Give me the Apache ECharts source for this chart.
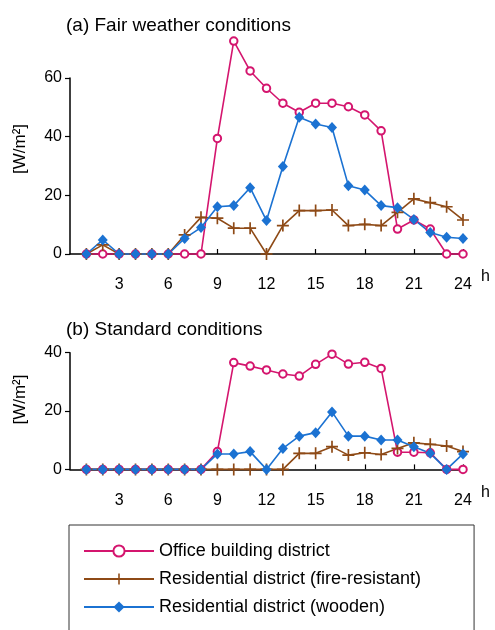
<!DOCTYPE html>
<html>
<head>
<meta charset="utf-8">
<style>
  html, body { margin: 0; padding: 0; background: #fff; }
  #chart { width: 495px; height: 630px; }
</style>
<script src="https://cdn.jsdelivr.net/npm/echarts@6/dist/echarts.min.js"></script>
</head>
<body>
<div id="chart"></div>
<script>
// Hour of day (1..24)
const hours = [1, 2, 3, 4, 5, 6, 7, 8, 9, 10, 11, 12, 13, 14, 15, 16, 17, 18, 19, 20, 21, 22, 23, 24];
const hourTicks = [3, 6, 9, 12, 15, 18, 21, 24];

// (a) Fair weather conditions [W/m2]
const officeFair = [0, 0, 0, 0, 0, 0, 0, 0, 39.4, 72.6, 62.4, 56.5, 51.4, 48.3, 51.4, 51.4, 50.2, 47.4, 42.0, 8.5, 11.6, 8.5, 0, 0];
const fireFair   = [0, 3.1, 0, 0, 0, 0, 6.5, 12.5, 12.2, 8.8, 8.8, 0, 9.7, 14.8, 14.8, 15.0, 9.7, 10.1, 9.7, 14.2, 18.8, 17.5, 16.1, 11.6];
const woodFair   = [0, 4.8, 0, 0, 0, 0, 5.3, 9.0, 16.1, 16.5, 22.6, 11.4, 29.8, 46.6, 44.3, 43.1, 23.3, 21.8, 16.5, 15.8, 11.8, 7.3, 5.7, 5.3];
const fairTicks  = [0, 20, 40, 60];

// (b) Standard conditions [W/m2]
const officeStd = [0, 0, 0, 0, 0, 0, 0, 0, 6.1, 36.6, 35.4, 34.1, 32.7, 32.0, 36.0, 39.5, 36.1, 36.7, 34.6, 5.9, 5.9, 5.7, 0, 0];
const fireStd   = [0, 0, 0, 0, 0, 0, 0, 0, 0, 0, 0, 0, 0, 5.5, 5.5, 7.8, 4.9, 5.7, 5.1, 7.2, 9.1, 8.6, 8.0, 6.1];
const woodStd   = [0, 0, 0, 0, 0, 0, 0, 0, 5.3, 5.3, 6.1, 0, 7.2, 11.4, 12.6, 19.7, 11.4, 11.4, 10.1, 10.1, 7.8, 5.5, 0, 5.3];
const stdTicks  = [0, 20, 40];

const seriesNames = ['Office building district', 'Residential district (fire-resistant)', 'Residential district (wooden)'];

const FONT = '"Liberation Sans", Arial, sans-serif';
const PINK = '#d4156e';
const BROWN = '#8e4a16';
const BLUE = '#1b72d2';
const PLUS = 'path://M4.3,0h1.4v4.3h4.3v1.4h-4.3v4.3h-1.4v-4.3h-4.3v-1.4h4.3z';

const pair = vals => hours.map((h, i) => [h, vals[i]]);

function xAxisFor(gridIndex) {
  return {
    type: 'value', gridIndex, min: 0, max: 24, offset: 9,
    name: 'h', nameLocation: 'end', nameGap: 18,
    nameTextStyle: { fontFamily: FONT, fontSize: 16, color: '#000', verticalAlign: 'top', padding: [15, 0, 0, 0] },
    axisLine: { show: true, lineStyle: { color: '#000', width: 1.5 } },
    axisTick: { show: true, inside: true, length: 5, customValues: hourTicks, lineStyle: { color: '#000', width: 1.2 } },
    axisLabel: { fontFamily: FONT, fontSize: 16, color: '#000', margin: 14, customValues: hourTicks },
    splitLine: { show: false }
  };
}

function yAxisFor(gridIndex, ticks, shift) {
  return {
    type: 'value', gridIndex, min: 0, max: ticks[ticks.length - 1], interval: 20,
    name: '[W/m²]', nameLocation: 'middle', nameGap: 41,
    nameTextStyle: { fontFamily: FONT, fontSize: 17, color: '#000', padding: [0, 0, 0, shift] },
    axisLine: { show: true, lineStyle: { color: '#000', width: 1.5 } },
    axisTick: { show: true, inside: false, length: 5, customValues: ticks, lineStyle: { color: '#000', width: 1.2 } },
    axisLabel: { fontFamily: FONT, fontSize: 16, color: '#000', margin: 8, customValues: ticks },
    splitLine: { show: false }
  };
}

function panelSeries(idx, office, fire, wood) {
  const common = { xAxisIndex: idx, yAxisIndex: idx, clip: false, z: 3 };
  return [
    Object.assign({}, common, {
      name: seriesNames[0], type: 'line', data: pair(office),
      symbol: 'emptyCircle', symbolSize: 7.5, color: PINK,
      lineStyle: { color: PINK, width: 1.6 },
      itemStyle: { color: PINK, borderColor: PINK, borderWidth: 1.5 },
      markLine: {
        silent: true, symbol: 'none', z: 1,
        label: { show: false },
        lineStyle: { color: '#a0a0a0', width: 1, type: 'solid' },
        data: [[{ coord: [0, 0] }, { coord: [24.9, 0] }]]
      }
    }),
    Object.assign({}, common, {
      name: seriesNames[1], type: 'line', data: pair(fire),
      symbol: PLUS, symbolSize: 12, color: BROWN,
      lineStyle: { color: BROWN, width: 1.6 },
      itemStyle: { color: BROWN }
    }),
    Object.assign({}, common, {
      name: seriesNames[2], type: 'line', data: pair(wood),
      symbol: 'diamond', symbolSize: [10, 11], color: BLUE,
      lineStyle: { color: BLUE, width: 1.6 },
      itemStyle: { color: BLUE }
    })
  ];
}

const chart = echarts.init(document.getElementById('chart'), null, { renderer: 'canvas' });
chart.setOption({
  animation: false,
  backgroundColor: '#fff',
  title: [
    { text: '(a) Fair weather conditions', left: 61, top: 11, textStyle: { fontFamily: FONT, fontSize: 19, fontWeight: 'normal', color: '#000' } },
    { text: '(b) Standard conditions', left: 61, top: 315, textStyle: { fontFamily: FONT, fontSize: 19, fontWeight: 'normal', color: '#000' } }
  ],
  grid: [
    { left: 70, width: 393, top: 78, height: 176 },
    { left: 70, width: 393, top: 352.7, height: 116.7 }
  ],
  xAxis: [xAxisFor(0), xAxisFor(1)],
  yAxis: [yAxisFor(0, fairTicks, 34), yAxisFor(1, stdTicks, 23)],
  legend: {
    orient: 'vertical', left: 69, top: 525, height: 200,
    padding: [17, 53, 30, 14],
    borderColor: '#333', borderWidth: 1,
    itemWidth: 70, itemHeight: 14, itemGap: 10,
    data: seriesNames,
    textStyle: { fontFamily: FONT, fontSize: 18, color: '#000' }
  },
  series: [].concat(
    panelSeries(0, officeFair, fireFair, woodFair),
    panelSeries(1, officeStd, fireStd, woodStd)
  )
});
</script>
</body>
</html>
